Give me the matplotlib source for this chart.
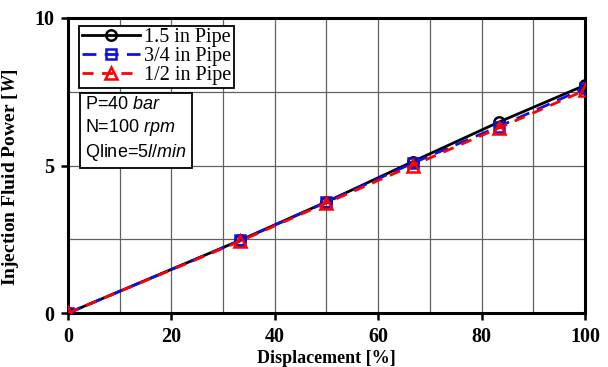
import matplotlib.pyplot as plt
import numpy as np

serif = "Liberation Serif"
plt.rcParams["mathtext.fontset"] = "custom"
plt.rcParams["mathtext.it"] = "Liberation Sans:italic"
plt.rcParams["mathtext.bf"] = "Liberation Serif:bold:italic"
plt.rcParams["mathtext.rm"] = "Liberation Sans"

displacement = [0, 33.33, 50, 66.67, 83.33, 100]
pipe_15 = [0, 2.47, 3.77, 5.13, 6.47, 7.72]
pipe_34 = [0, 2.46, 3.76, 5.08, 6.32, 7.62]
pipe_12 = [0, 2.44, 3.73, 5.00, 6.27, 7.55]

fig = plt.figure(figsize=(6.08, 3.67), dpi=100)
ax = fig.add_axes([0.112, 0.147, 0.85, 0.804])

ax.plot(displacement, pipe_15, color="black", linewidth=2, marker="o", markersize=7.5,
        markerfacecolor="none", markeredgewidth=1.8, label="1.5 in Pipe", zorder=3)
ax.plot(displacement, pipe_34, color="#1010e0", linewidth=2, linestyle=(0, (5, 3)), marker="s",
        markersize=7, markerfacecolor="none", markeredgewidth=1.8, label="3/4 in Pipe", zorder=4)
ax.plot(displacement, pipe_12, color="red", linewidth=2, linestyle=(0, (4, 3)), marker="^",
        markersize=8, markerfacecolor="none", markeredgewidth=1.8, label="1/2 in Pipe", zorder=5)

ax.set_xlim(0, 100)
ax.set_ylim(0, 10)
ax.set_xticks([0, 20, 40, 60, 80, 100])
ax.set_yticks([0, 5, 10])
ax.set_xticks(np.arange(0, 101, 10), minor=True)
ax.set_yticks([2.5, 7.5], minor=True)
ax.grid(True, which="both", color="#606060", linewidth=0.9)
ax.set_axisbelow(True)
ax.tick_params(which="minor", length=0)
ax.tick_params(which="major", direction="out", length=5, width=1.8, labelsize=14.5, pad=5)
for lab in ax.get_xticklabels() + ax.get_yticklabels():
    lab.set_fontfamily(serif)
    lab.set_fontweight("bold")
for s in ax.spines.values():
    s.set_linewidth(2.2)

ax.set_xlabel("Displacement [%]", fontfamily=serif, fontweight="bold", fontsize=13, labelpad=2)
ax.set_ylabel("Injection Fluid Power [$\\mathbf{W}$]", fontfamily=serif, fontweight="bold",
              fontsize=14)
ax.yaxis.set_label_coords(-0.092, 0.46)

leg = ax.legend(loc="upper left", bbox_to_anchor=(0.01, 0.995), prop={"family": serif, "size": 14.5},
                fancybox=False, edgecolor="black", framealpha=1, borderpad=0.12, labelspacing=0.0,
                handlelength=2.9, handletextpad=0.2, borderaxespad=0.3)
leg.get_frame().set_linewidth(1.3)

ax.text(0.033, 0.735, "P=40 $\\it{bar}$\nN=100 $\\it{rpm}$\nQline=5$\\it{l/min}$", transform=ax.transAxes,
        fontfamily="Liberation Sans", fontsize=13, va="top", ha="left", linespacing=1.25,
        bbox=dict(boxstyle="square,pad=0.3", facecolor="white", edgecolor="black", linewidth=1.3), zorder=6)

fig.savefig("out.png", dpi=100)
